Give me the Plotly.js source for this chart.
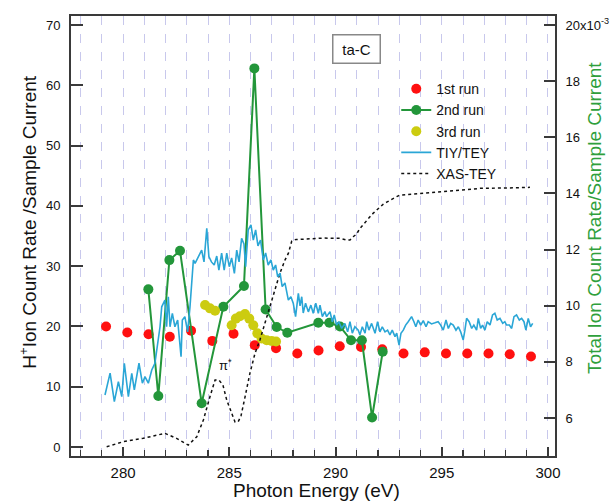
<!DOCTYPE html>
<html>
<head>
<meta charset="utf-8">
<script src="https://cdn.plot.ly/plotly-3.0.1.min.js"></script>
<style>html,body{margin:0;padding:0;background:#fff;}#chart{width:616px;height:502px;}</style>
</head>
<body>
<div id="chart"></div>
<script>
// ---- data ----
const run1E = [279.2,280.2,281.2,282.2,283.2,284.2,285.2,286.2,287.2,288.2,289.2,290.2,291.2,292.2,293.2,294.2,295.2,296.2,297.2,298.2,299.2];
const run1V = [20.0,19.0,18.7,18.3,19.3,17.6,18.8,16.9,16.4,15.5,16.0,16.7,16.6,16.2,15.5,15.7,15.5,15.5,15.5,15.4,15.0];

const run2E = [281.19,281.66,282.18,282.68,283.70,284.72,285.69,286.18,286.71,287.23,287.73,289.19,289.71,290.21,290.73,291.24,291.72,292.22];
const run2V = [26.15,8.46,31.0,32.55,7.25,23.27,26.7,62.8,22.8,19.9,18.95,20.6,20.6,20.0,17.7,17.7,4.9,15.8];

const run3E = [283.86,284.09,284.33,285.11,285.31,285.50,285.74,285.94,286.13,286.32,286.52,286.76,286.99,287.20];
const run3V = [23.55,23.0,22.6,20.2,21.3,21.7,22.05,21.3,20.2,18.85,18.0,17.7,17.6,17.5];

const tiyE = [279.15,279.39,279.59,279.78,279.94,280.06,280.25,280.41,280.53,280.75,280.91,281.03,281.19,281.35,281.50,281.66,281.74,281.82,281.97,282.05,282.13,282.21,282.32,282.44,282.57,282.73,282.79,282.91,283.04,283.15,283.23,283.31,283.39,283.54,283.70,283.81,283.94,284.04,284.16,284.29,284.41,284.51,284.64,284.76,284.88,285.00,285.11,285.24,285.35,285.46,285.58,285.69,285.77,285.89,286.02,286.13,286.24,286.35,286.47,286.60,286.71,286.83,286.96,287.07,287.18,287.28,287.39,287.49,287.62,287.78,287.90,288.01,288.12,288.25,288.33,288.41,288.48,288.59,288.72,288.84,288.95,289.07,289.19,289.27,289.38,289.50,289.58,289.74,289.85,289.94,290.05,290.16,290.29,290.44,290.57,290.68,290.79,290.91,291.07,291.15,291.26,291.39,291.47,291.57,291.70,291.86,291.98,292.09,292.20,292.33,292.45,292.56,292.67,292.80,292.88,292.99,293.08,293.19,293.30,293.42,293.58,293.69,293.78,293.89,294.01,294.13,294.26,294.36,294.52,294.68,294.83,294.95,295.07,295.20,295.31,295.42,295.54,295.67,295.78,295.89,296.01,296.09,296.17,296.29,296.41,296.51,296.64,296.72,296.83,296.92,297.03,297.14,297.27,297.39,297.50,297.61,297.74,297.87,297.97,298.05,298.18,298.29,298.40,298.52,298.65,298.76,298.87,298.96,299.07,299.18,299.28];
// TIY/TEY, in units of 1e-3 (right axis)
const tiyV = [6.82,7.60,6.58,7.29,6.76,7.95,6.76,7.59,7.00,7.95,7.24,7.47,7.24,7.71,7.95,8.78,9.25,9.96,10.20,9.25,10.32,9.25,9.73,9.25,9.49,8.18,9.49,9.61,9.07,9.96,10.68,11.63,11.51,11.75,11.98,11.56,12.76,11.75,11.56,11.45,11.77,11.27,11.87,11.27,11.87,11.39,11.70,11.15,11.98,11.56,12.40,12.20,11.39,12.70,12.88,12.34,12.70,12.13,12.34,11.63,11.88,11.45,11.63,11.27,11.45,11.03,11.16,10.68,10.81,10.20,10.32,10.09,9.61,10.44,9.99,10.32,9.74,10.09,9.78,10.02,9.73,10.09,9.73,10.02,9.61,9.79,9.61,9.79,9.43,9.67,9.31,9.43,9.19,9.37,9.07,9.43,9.02,9.25,9.13,8.96,9.25,9.02,9.43,9.13,9.37,9.02,9.43,9.07,9.25,9.07,9.13,8.96,9.13,8.90,9.02,8.60,9.02,9.13,9.31,9.43,9.61,9.43,9.25,9.49,9.31,9.47,9.25,9.43,9.35,9.39,9.43,9.31,9.13,9.49,9.19,9.37,9.31,9.13,9.25,9.07,8.78,9.13,9.55,9.43,9.19,9.31,9.13,9.55,9.19,9.31,9.13,9.43,9.31,9.67,9.73,9.49,9.55,9.37,9.43,9.31,9.31,9.19,9.61,9.67,9.49,9.55,9.43,9.13,9.55,9.25,9.37];

const xasE = [279.23,280.01,280.95,281.97,282.52,283.07,283.47,283.78,284.09,284.33,284.51,284.70,284.88,285.11,285.27,285.42,285.55,285.74,285.97,286.21,286.44,286.68,286.91,287.15,287.38,287.62,287.78,287.94,288.14,288.33,288.95,289.41,289.89,290.21,290.52,290.68,290.83,290.99,291.15,291.31,291.46,291.62,291.78,291.94,292.09,292.25,292.41,292.56,292.72,292.88,293.03,293.35,293.66,294.02,294.44,294.82,295.23,295.62,296.01,296.41,296.80,297.19,297.58,298.05,298.52,298.83,299.15];
const xasV = [0.05,0.88,1.44,2.27,1.44,0.33,1.71,4.48,8.34,11.11,11.11,10.28,7.79,5.64,4.15,4.20,5.14,8.29,12.22,15.54,17.74,20.56,23.26,26.03,28.80,31.0,32.12,34.16,34.44,34.44,34.61,34.66,34.61,34.61,34.33,34.33,34.87,35.32,36.26,36.97,37.64,38.18,38.80,39.30,39.84,40.29,40.62,40.95,41.23,41.53,41.78,41.87,41.95,42.07,42.17,42.25,42.33,42.45,42.61,42.75,42.90,42.95,43.0,43.0,43.0,43.03,43.07];

const leftTicks = [0,10,20,30,40,50,60,70];
const rightTicks = [6,8,10,12,14,16,18,20];
const rightTickText = ["6","8","10","12","14","16","18","20x10<sup>-3</sup>"];

// ---- style ----
const FONT = "Liberation Sans, Arial, Helvetica, sans-serif";
const NARROW = "Liberation Sans Narrow, Arial Narrow, Liberation Sans, Arial, sans-serif";
const AX = "#3a3a3a";
const GRID = "rgb(200,200,236)";

const traces = [
  {x: run1E, y: run1V, name: "1st run", type: "scatter", mode: "markers",
   marker: {color: "#ff1010", size: 10}, yaxis: "y"},
  {x: run2E, y: run2V, name: "2nd run", type: "scatter", mode: "lines+markers",
   line: {color: "#23963a", width: 2}, marker: {color: "#23963a", size: 10}, yaxis: "y"},
  {x: run3E, y: run3V, name: "3rd run", type: "scatter", mode: "markers",
   marker: {color: "#cccc10", size: 10}, yaxis: "y"},
  {x: tiyE, y: tiyV, name: "TIY/TEY", type: "scatter", mode: "lines",
   line: {color: "#2aa6d6", width: 1.6}, yaxis: "y2"},
  {x: xasE, y: xasV, name: "XAS-TEY", type: "scatter", mode: "lines",
   line: {color: "#111", width: 1.5, dash: "dot"}, yaxis: "y"}
];

const layout = {
  width: 616, height: 502,
  margin: {l: 71, r: 61, t: 16, b: 46},
  paper_bgcolor: "#fff", plot_bgcolor: "#fff",
  font: {family: FONT, size: 14, color: "#111"},
  showlegend: true,
  legend: {x: 0.672, y: 0.87, xanchor: "left", yanchor: "top",
           bgcolor: "rgba(0,0,0,0)", font: {family: FONT, size: 14, color: "#111"},
           tracegroupgap: 0},
  xaxis: {range: [277.55, 300.33], tick0: 280, dtick: 5, showline: true, mirror: true,
          linecolor: AX, linewidth: 2, ticks: "inside", ticklen: 9, tickwidth: 2, tickcolor: AX,
          showgrid: true, gridcolor: GRID, griddash: "dash", gridwidth: 1, zeroline: false,
          tickfont: {family: FONT, size: 15}, ticklabelstandoff: 2,
          minor: {dtick: 1, tick0: 280, ticks: "inside", ticklen: 6, tickwidth: 1.3, tickcolor: AX,
                  showgrid: true, gridcolor: GRID, griddash: "dash", gridwidth: 1}},
  yaxis: {range: [-1.49, 71.49], tickvals: leftTicks, showline: true, linecolor: AX, linewidth: 2,
          ticks: "inside", ticklen: 12, tickwidth: 2, tickcolor: AX, showgrid: false, zeroline: false,
          tickfont: {family: NARROW, size: 13}, ticklabelstandoff: 6},
  yaxis2: {range: [4.646, 20.32], overlaying: "y", side: "right", tickvals: rightTicks,
           ticktext: rightTickText, showline: true, linecolor: AX, linewidth: 2,
           ticks: "inside", ticklen: 11, tickwidth: 2, tickcolor: AX, showgrid: false, zeroline: false,
           tickfont: {family: NARROW, size: 13}, ticklabelstandoff: 6},
  annotations: [
    {text: "H<sup>+</sup>Ion Count Rate /Sample Current", xref: "paper", yref: "paper",
     x: -0.089, y: 0.532, xanchor: "center", yanchor: "middle", textangle: -90, showarrow: false,
     font: {family: FONT, size: 19, color: "#111"}},
    {text: "Total Ion Count Rate/Sample Current", xref: "paper", yref: "paper",
     x: 1.0826, y: 0.541, xanchor: "center", yanchor: "middle", textangle: -90, showarrow: false,
     font: {family: FONT, size: 19, color: "#2f9f3c"}},
    {text: "Photon Energy (eV)", xref: "paper", yref: "paper", x: 0.508, y: -0.079,
     xanchor: "center", yanchor: "middle", showarrow: false,
     font: {family: FONT, size: 19, color: "#111"}},
    {text: "ta-C", xref: "x", yref: "paper", x: 291.01, y: 0.926, xanchor: "center", yanchor: "middle",
     showarrow: false, bordercolor: "#888", borderwidth: 1.5, borderpad: 5, bgcolor: "#fff", width: 36,
     font: {family: FONT, size: 15, color: "#111"}},
    {text: "π<sup>*</sup>", xref: "x", yref: "y", x: 284.84, y: 13.6, showarrow: false,
     font: {family: FONT, size: 13, color: "#111"}}
  ]
};

Plotly.newPlot("chart", traces, layout, {staticPlot: true, displayModeBar: false});
</script>
</body>
</html>
